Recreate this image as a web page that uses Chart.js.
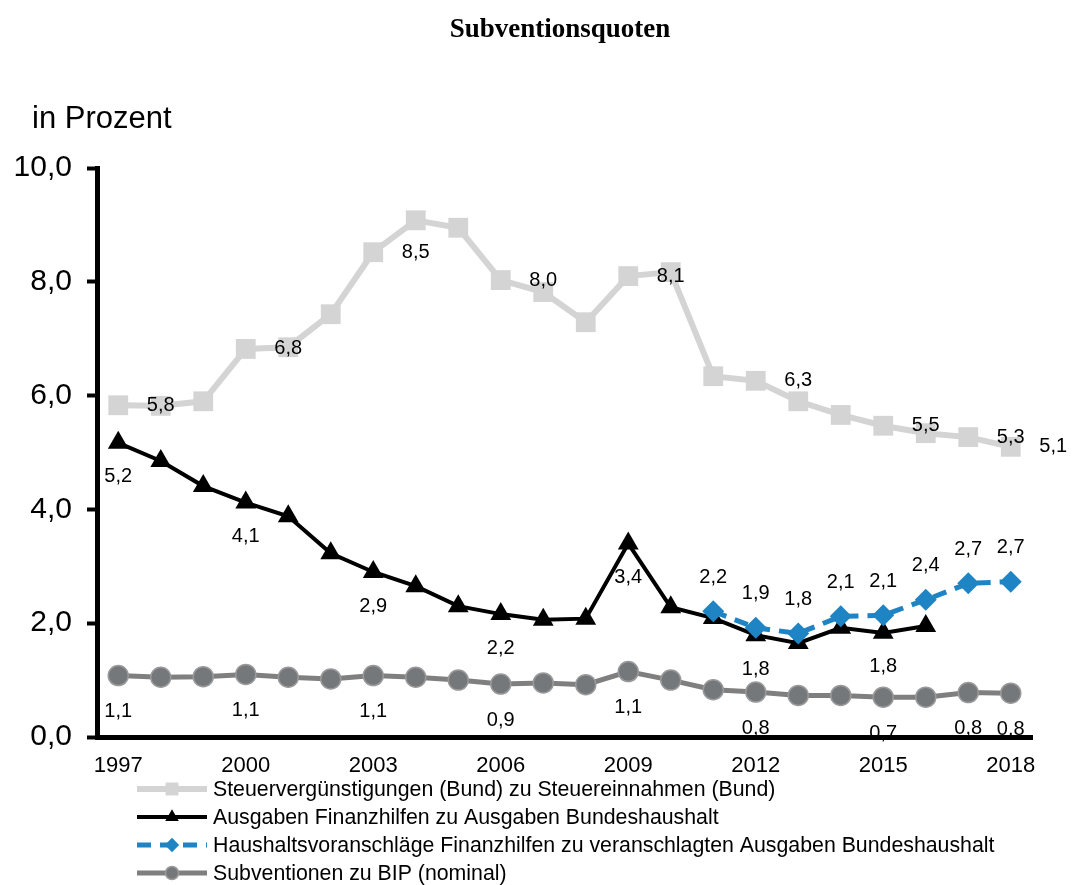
<!DOCTYPE html>
<html lang="de">
<head>
<meta charset="utf-8">
<title>Subventionsquoten</title>
<script src="https://cdn.jsdelivr.net/npm/chart.js@4/dist/chart.umd.min.js"></script>
<style>
  html, body { margin: 0; padding: 0; background: #fff; }
  #wrap { width: 1073px; height: 885px; }
</style>
</head>
<body>
<div id="wrap"><canvas id="chart" width="1073" height="885"></canvas></div>
<script>
// ─── Data ───────────────────────────────────────────
const YEARS = ['1997','1998','1999','2000','2001','2002','2003','2004','2005','2006','2007',
               '2008','2009','2010','2011','2012','2013','2014','2015','2016','2017','2018'];
const X_TICK_LABELS = ['1997','2000','2003','2006','2009','2012','2015','2018'];
const Y_TICKS = [0, 2, 4, 6, 8, 10];

// Steuervergünstigungen (Bund) zu Steuereinnahmen (Bund)
const STEUER = [5.83, 5.82, 5.9, 6.82, 6.85, 7.43, 8.52, 9.08, 8.95, 8.03, 7.82,
                7.29, 8.1, 8.17, 6.34, 6.26, 5.9, 5.66, 5.47, 5.34, 5.27, 5.1];
// Ausgaben Finanzhilfen zu Ausgaben Bundeshaushalt
const FINANZ = [5.17, 4.85, 4.41, 4.12, 3.88, 3.23, 2.9, 2.65, 2.3, 2.16, 2.06,
                2.08, 3.4, 2.28, 2.09, 1.79, 1.65, 1.92, 1.83, 1.95, null, null];
// Haushaltsvoranschläge Finanzhilfen zu veranschlagten Ausgaben Bundeshaushalt
const VORANSCHLAG = [null, null, null, null, null, null, null, null, null, null, null,
                     null, null, null, 2.21, 1.92, 1.82, 2.12, 2.14, 2.41, 2.7, 2.73];
// Subventionen zu BIP (nominal)
const BIP = [1.08, 1.05, 1.06, 1.1, 1.05, 1.02, 1.08, 1.05, 1.0, 0.93, 0.95,
             0.92, 1.15, 1.0, 0.83, 0.79, 0.73, 0.73, 0.7, 0.7, 0.78, 0.77];

// points that carry a value label (indices into YEARS)
const STEUER_LABELED = [0, 3, 6, 9, 12, 15, 18, 20, 21];
const FINANZ_LABELED = [0, 3, 6, 9, 12, 15, 18];
const VORANSCHLAG_LABELED = [14, 15, 16, 17, 18, 19, 20, 21];
const BIP_LABELED = [0, 3, 6, 9, 12, 15, 18, 20, 21];

// ─── Helpers ────────────────────────────────────────
const FONT = '"Liberation Sans", Arial, sans-serif';
const fmt = v => v.toFixed(1).replace('.', ',');

const SERIES = [
  { label: 'Steuervergünstigungen (Bund) zu Steuereinnahmen (Bund)', data: STEUER,
    color: '#d4d4d4', width: 6, point: 'rect', radius: 14, dash: [], order: 3,
    labeled: STEUER_LABELED, dx: 1, dy: 0 },
  { label: 'Ausgaben Finanzhilfen zu Ausgaben Bundeshaushalt', data: FINANZ,
    color: '#000000', width: 4, point: 'triangle', radius: 12, dash: [], order: 1,
    labeled: FINANZ_LABELED, dx: 0, dy: 34 },
  { label: 'Haushaltsvoranschläge Finanzhilfen zu veranschlagten Ausgaben Bundeshaushalt', data: VORANSCHLAG,
    color: '#1f84c4', width: 5, point: 'rectRot', radius: 11, dash: [14, 9], order: 0,
    labeled: VORANSCHLAG_LABELED, dx: 0, dy: -34 },
  { label: 'Subventionen zu BIP (nominal)', data: BIP,
    color: '#7f7f7f', fill: '#75787b', width: 5, point: 'circle', radius: 10, dash: [], order: 2,
    labeled: BIP_LABELED, dx: 0, dy: 36 },
];

// ─── Plugins ────────────────────────────────────────
const valueLabels = {
  id: 'valueLabels',
  afterDatasetsDraw(chart) {
    const ctx = chart.ctx;
    const xs = chart.scales.x;
    const step = xs.getPixelForValue(1) - xs.getPixelForValue(0);
    ctx.save();
    ctx.font = '20px ' + FONT;
    ctx.fillStyle = '#000';
    ctx.textAlign = 'center';
    ctx.textBaseline = 'middle';
    SERIES.forEach((s, di) => {
      const meta = chart.getDatasetMeta(di);
      s.labeled.forEach(i => {
        const pt = meta.data[i];
        if (!pt || s.data[i] == null) return;
        ctx.fillText(fmt(s.data[i]), pt.x + s.dx * step, pt.y + s.dy);
      });
    });
    ctx.restore();
  }
};

function drawMarker(ctx, s, x, y) {
  Chart.helpers.drawPoint(ctx, {
    pointStyle: s.point, radius: s.radius, borderWidth: s.point === 'circle' ? 1.5 : 0, rotation: 0
  }, x, y);
}

const decorations = {
  id: 'decorations',
  afterDraw(chart) {
    const ctx = chart.ctx;
    ctx.save();
    // title
    ctx.fillStyle = '#000';
    ctx.font = 'bold 27px "Liberation Serif", "Times New Roman", serif';
    ctx.textAlign = 'center';
    ctx.textBaseline = 'alphabetic';
    ctx.fillText('Subventionsquoten', 560, 37);
    // unit
    ctx.font = '31px ' + FONT;
    ctx.textAlign = 'left';
    ctx.fillText('in Prozent', 32, 128);

    // legend
    const rows = [789, 817, 845, 873];
    ctx.font = '21.3px ' + FONT;
    ctx.textBaseline = 'middle';
    SERIES.forEach((s, i) => {
      const y = rows[i];
      ctx.strokeStyle = s.color;
      ctx.lineWidth = s.width;
      ctx.setLineDash(s.dash);
      ctx.beginPath();
      ctx.moveTo(137, y);
      ctx.lineTo(207, y);
      ctx.stroke();
      ctx.setLineDash([]);
      ctx.fillStyle = s.fill || s.color;
      ctx.strokeStyle = '#9a9a9a';
      ctx.lineWidth = 1.5;
      const small = Object.assign({}, s, { radius: s.radius * 0.65 });
      drawMarker(ctx, small, 172, y);
      ctx.fillStyle = '#000';
      ctx.fillText(s.label, 213, y + 1);
    });
    ctx.restore();
  }
};

// ─── Chart ──────────────────────────────────────────
new Chart(document.getElementById('chart'), {
  type: 'line',
  data: {
    labels: YEARS,
    datasets: SERIES.map(s => ({
      label: s.label,
      data: s.data,
      order: s.order,
      borderColor: s.color,
      borderWidth: s.width,
      borderDash: s.dash,
      tension: 0,
      spanGaps: false,
      pointStyle: s.point,
      pointRadius: s.radius,
      pointBackgroundColor: s.fill || s.color,
      pointBorderColor: s.point === 'circle' ? '#9a9a9a' : s.color,
      pointBorderWidth: s.point === 'circle' ? 1.5 : 0,
    }))
  },
  options: {
    responsive: false,
    animation: false,
    devicePixelRatio: 1,
    layout: { padding: { left: 0, top: 168, right: 41, bottom: 98 } },
    plugins: {
      legend: { display: false },
      title: { display: false },
      tooltip: { enabled: false }
    },
    scales: {
      x: {
        z: 1,
        offset: true,
        afterFit: s => { s.height = 50; },
        grid: { drawOnChartArea: false, drawTicks: false },
        border: { display: true, color: '#000', width: 5 },
        ticks: {
          autoSkip: false, maxRotation: 0, padding: 16,
          color: '#000', font: { family: FONT, size: 22 },
          callback: (v, i) => X_TICK_LABELS.includes(YEARS[i]) ? YEARS[i] : ''
        }
      },
      y: {
        z: 1,
        min: 0, max: 10,
        afterFit: s => { s.width = 97; },
        afterBuildTicks: s => { s.ticks = Y_TICKS.map(v => ({ value: v })); },
        grid: { drawOnChartArea: false, drawTicks: true, tickLength: 10, tickWidth: 4, tickColor: '#000' },
        border: { display: true, color: '#000', width: 5 },
        ticks: {
          padding: 15, color: '#000', font: { family: FONT, size: 30 },
          callback: v => fmt(v)
        }
      }
    }
  },
  plugins: [valueLabels, decorations]
});
</script>
</body>
</html>
